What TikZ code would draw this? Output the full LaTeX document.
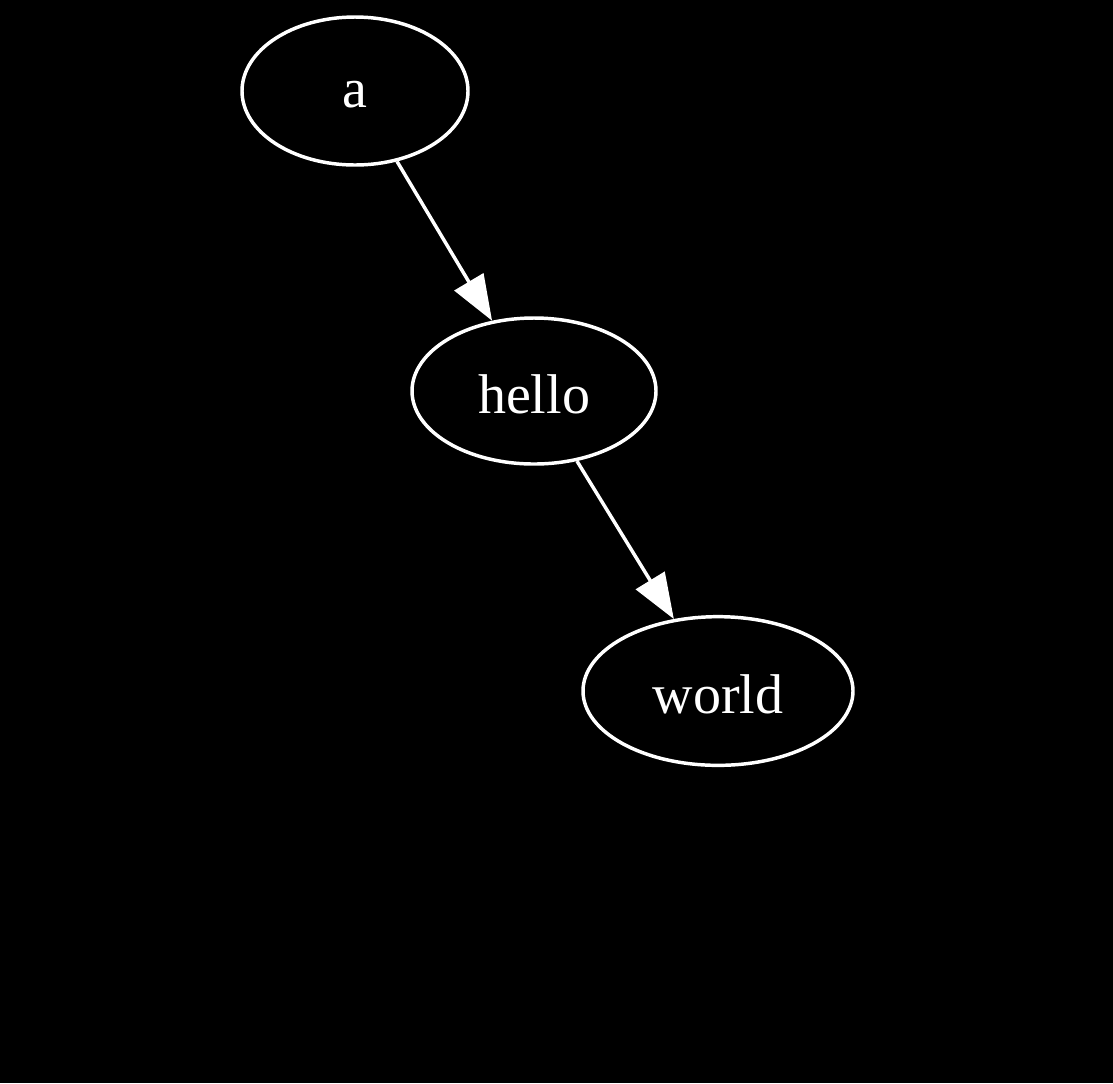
\documentclass[tikz,border=0pt]{standalone}
\usepackage{fontspec}
\setmainfont{Liberation Serif}
\usetikzlibrary{arrows.meta,shapes.geometric}
\newcommand{\gdown}[1]{\raisebox{-2.5pt}[\height][\depth]{#1}}
\begin{document}
\begin{tikzpicture}[x=0.75pt,y=-0.75pt,
  gnode/.style={ellipse,draw=white,line width=2.6pt,text=white,inner sep=0pt,font=\fontsize{42}{50}\selectfont},
  gedge/.style={draw=white,line width=2.6pt,-{Triangle[length=34pt,width=25pt,fill=white]}}]
\fill[black] (0,0) rectangle (1113,1083);
\useasboundingbox (0,0) rectangle (1113,1083);
\node[gnode,minimum width=169.5pt,minimum height=111pt] (a) at (355,91) {\gdown{a}};
\node[gnode,minimum width=183pt,minimum height=109.5pt] (hello) at (534,391) {\gdown{hello}};
\node[gnode,minimum width=202.5pt,minimum height=111.5pt] (world) at (718,691) {\gdown{world}};
\draw[gedge] (a) -- (hello);
\draw[gedge] (hello) -- (world);
\end{tikzpicture}
\end{document}
